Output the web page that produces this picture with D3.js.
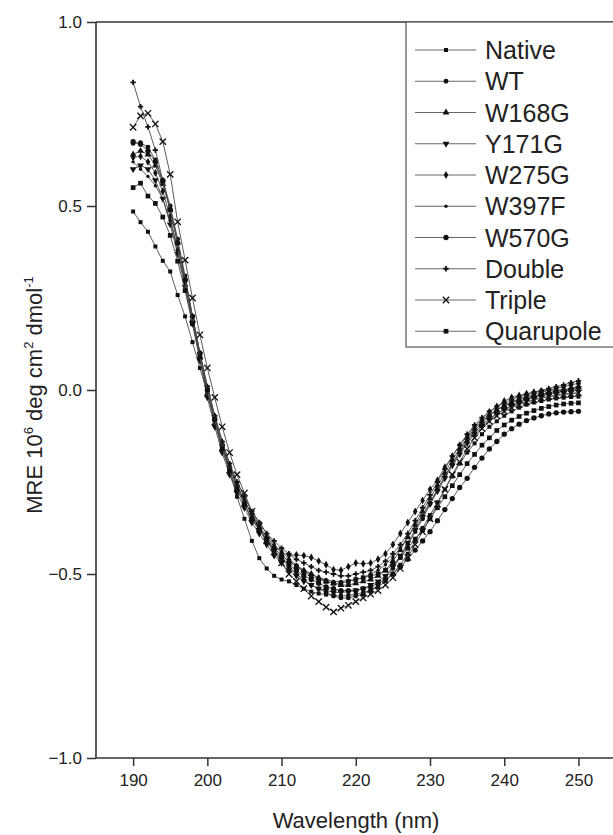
<!DOCTYPE html>
<html lang="en">

<head>
  <meta charset="utf-8">
  <title>CD spectra</title>
  <style>
    body {
      margin: 0;
      background: #fff;
    }

    svg text {
      font-family: "Liberation Sans", Arial, sans-serif;
      fill: #222;
    }

    .curve {
      fill: none;
      stroke: #4a4a4a;
      stroke-width: 0.9;
    }

    .frame line {
      stroke: #333;
      stroke-width: 1.6;
    }
  </style>
</head>

<body>
  <div id="chart"></div>
  <script src="https://d3js.org/d3.v7.min.js"></script>
  <script>
    // wavelength (nm) of every sample
    var wavelength = [190, 191, 192, 193, 194, 195, 196, 197, 198, 199,
      200, 201, 202, 203, 204, 205, 206, 207, 208, 209,
      210, 211, 212, 213, 214, 215, 216, 217, 218, 219,
      220, 221, 222, 223, 224, 225, 226, 227, 228, 229,
      230, 231, 232, 233, 234, 235, 236, 237, 238, 239,
      240, 241, 242, 243, 244, 245, 246, 247, 248, 249, 250];

    var xTicks = [190, 200, 210, 220, 230, 240, 250];
    var yTicks = [-1.0, -0.5, 0.0, 0.5, 1.0];

    var seriesNames = ["Native", "WT", "W168G", "Y171G", "W275G", "W397F", "W570G", "Double", "Triple", "Quarupole"];

    // MRE, 10^6 deg cm2 dmol-1
    var native = [0.485, 0.456, 0.43, 0.39, 0.351, 0.322, 0.258, 0.2, 0.13, 0.06,
      -0.01, -0.08, -0.15, -0.22, -0.29, -0.35, -0.41, -0.457, -0.485, -0.505,
      -0.515, -0.52, -0.53, -0.54, -0.548, -0.553, -0.556, -0.558, -0.56, -0.558,
      -0.555, -0.55, -0.545, -0.535, -0.52, -0.5, -0.475, -0.445, -0.41, -0.375,
      -0.34, -0.305, -0.27, -0.235, -0.2, -0.17, -0.145, -0.12, -0.1, -0.085,
      -0.07, -0.058, -0.048, -0.04, -0.034, -0.03, -0.026, -0.023, -0.021, -0.019, -0.018];
    var wt = [0.67, 0.672, 0.66, 0.625, 0.57, 0.5, 0.41, 0.31, 0.2, 0.1,
      0.0, -0.08, -0.15, -0.21, -0.26, -0.3, -0.34, -0.38, -0.41, -0.44,
      -0.46, -0.48, -0.5, -0.515, -0.53, -0.54, -0.55, -0.56, -0.565, -0.565,
      -0.56, -0.555, -0.545, -0.53, -0.51, -0.485, -0.455, -0.42, -0.385, -0.35,
      -0.31, -0.27, -0.235, -0.2, -0.165, -0.135, -0.11, -0.09, -0.07, -0.055,
      -0.042, -0.032, -0.024, -0.017, -0.011, -0.006, -0.001, 0.004, 0.009, 0.014, 0.018];
    var w168g = [0.64, 0.65, 0.64, 0.61, 0.56, 0.49, 0.4, 0.3, 0.19, 0.09,
      -0.01, -0.09, -0.16, -0.22, -0.27, -0.31, -0.35, -0.38, -0.41, -0.43,
      -0.45, -0.465, -0.48, -0.49, -0.5, -0.51, -0.52, -0.525, -0.53, -0.53,
      -0.525, -0.52, -0.515, -0.505, -0.49, -0.465, -0.435, -0.4, -0.365, -0.33,
      -0.295, -0.26, -0.225, -0.19, -0.16, -0.13, -0.105, -0.085, -0.068, -0.054,
      -0.043, -0.034, -0.027, -0.021, -0.016, -0.011, -0.007, -0.003, 0.001, 0.005, 0.009];
    var y171g = [0.6, 0.61, 0.6, 0.57, 0.52, 0.45, 0.37, 0.28, 0.18, 0.08,
      -0.02, -0.1, -0.17, -0.23, -0.28, -0.32, -0.36, -0.39, -0.42, -0.45,
      -0.47, -0.49, -0.505, -0.52, -0.53, -0.54, -0.545, -0.55, -0.55, -0.548,
      -0.545, -0.54, -0.53, -0.52, -0.505, -0.48, -0.45, -0.415, -0.38, -0.345,
      -0.31, -0.275, -0.24, -0.205, -0.175, -0.145, -0.12, -0.098, -0.08, -0.065,
      -0.052, -0.042, -0.033, -0.026, -0.02, -0.015, -0.011, -0.007, -0.003, 0.001, 0.005];
    var w275g = [0.632, 0.635, 0.62, 0.59, 0.54, 0.47, 0.38, 0.29, 0.19, 0.09,
      0.0, -0.08, -0.15, -0.21, -0.26, -0.3, -0.34, -0.37, -0.4, -0.425,
      -0.44, -0.45, -0.448, -0.45, -0.455, -0.465, -0.475, -0.488, -0.49, -0.48,
      -0.47, -0.472, -0.47, -0.46, -0.445, -0.42, -0.39, -0.36, -0.33, -0.3,
      -0.27, -0.245, -0.21, -0.18, -0.15, -0.125, -0.1, -0.08, -0.06, -0.045,
      -0.03, -0.02, -0.015, -0.01, -0.006, -0.003, -0.001, 0.0, 0.0, 0.0, 0.0];
    var w397f = [0.62, 0.6, 0.58, 0.555, 0.52, 0.46, 0.38, 0.29, 0.19, 0.1,
      0.01, -0.07, -0.14, -0.2, -0.25, -0.29, -0.33, -0.36, -0.39, -0.42,
      -0.44, -0.46, -0.475, -0.49, -0.5, -0.51, -0.515, -0.52, -0.52, -0.518,
      -0.515, -0.51, -0.5, -0.49, -0.475, -0.455, -0.43, -0.4, -0.37, -0.34,
      -0.305, -0.27, -0.235, -0.2, -0.17, -0.14, -0.115, -0.095, -0.078, -0.064,
      -0.053, -0.044, -0.037, -0.031, -0.026, -0.021, -0.017, -0.014, -0.011, -0.009, -0.008];
    var w570g = [0.675, 0.668, 0.65, 0.62, 0.565, 0.49, 0.4, 0.3, 0.2, 0.1,
      0.0, -0.08, -0.15, -0.21, -0.26, -0.31, -0.35, -0.38, -0.41, -0.435,
      -0.455, -0.475, -0.49, -0.505, -0.515, -0.525, -0.535, -0.54, -0.545, -0.545,
      -0.545, -0.54, -0.535, -0.525, -0.515, -0.5, -0.48, -0.46, -0.435, -0.41,
      -0.385, -0.355, -0.325, -0.295, -0.265, -0.24, -0.21, -0.185, -0.16, -0.14,
      -0.12, -0.105, -0.093, -0.083, -0.076, -0.07, -0.065, -0.062, -0.06, -0.059, -0.058];
    var double = [0.836, 0.77, 0.715, 0.652, 0.57, 0.49, 0.4, 0.3, 0.2, 0.1,
      0.01, -0.07, -0.14, -0.2, -0.25, -0.29, -0.33, -0.36, -0.39, -0.41,
      -0.43, -0.445, -0.46, -0.47, -0.48, -0.49, -0.495, -0.5, -0.505, -0.505,
      -0.5, -0.495, -0.49, -0.48, -0.465, -0.445, -0.42, -0.39, -0.355, -0.32,
      -0.285, -0.25, -0.215, -0.18, -0.15, -0.12, -0.095, -0.075, -0.058, -0.045,
      -0.035, -0.026, -0.018, -0.012, -0.006, -0.001, 0.004, 0.009, 0.014, 0.02, 0.025];
    var triple = [0.714, 0.745, 0.752, 0.723, 0.675, 0.586, 0.457, 0.353, 0.25, 0.15,
      0.06, -0.02, -0.1, -0.17, -0.23, -0.28, -0.33, -0.37, -0.41, -0.44,
      -0.47, -0.5, -0.52, -0.54, -0.56, -0.575, -0.59, -0.603, -0.593, -0.585,
      -0.575, -0.565, -0.555, -0.545, -0.53, -0.51, -0.485, -0.455, -0.42, -0.385,
      -0.35, -0.31, -0.27, -0.23, -0.195, -0.16, -0.13, -0.105, -0.085, -0.07,
      -0.058, -0.048, -0.04, -0.033, -0.027, -0.022, -0.018, -0.015, -0.012, -0.01, -0.008];
    var quarupole = [0.55, 0.562, 0.527, 0.507, 0.47, 0.42, 0.35, 0.27, 0.18, 0.09,
      0.0, -0.08, -0.16, -0.22, -0.27, -0.31, -0.35, -0.38, -0.405, -0.43,
      -0.45, -0.465, -0.48, -0.495, -0.505, -0.515, -0.52, -0.525, -0.525, -0.52,
      -0.515, -0.51, -0.505, -0.5, -0.49, -0.475, -0.455, -0.43, -0.405, -0.38,
      -0.35, -0.32, -0.29, -0.26, -0.23, -0.2, -0.175, -0.15, -0.13, -0.11,
      -0.095, -0.082, -0.072, -0.063, -0.056, -0.05, -0.045, -0.041, -0.038, -0.036, -0.035];

    var seriesValues = [native, wt, w168g, y171g, w275g, w397f, w570g, double, triple, quarupole];

    // marker shape for each series
    var timesSym = d3.symbolTimes || d3.symbolX;
    var markers = [
      { type: d3.symbolSquare, size: 16, rot: 0 },
      { type: d3.symbolCircle, size: 18, rot: 0 },
      { type: d3.symbolTriangle, size: 20, rot: 0 },
      { type: d3.symbolTriangle, size: 20, rot: 180 },
      { type: d3.symbolDiamond, size: 18, rot: 0 },
      { type: d3.symbolCircle, size: 9, rot: 0 },
      { type: d3.symbolCircle, size: 22, rot: 0 },
      { type: d3.symbolCross, size: 16, rot: 0 },
      { type: timesSym, size: 28, rot: 0, stroke: true },
      { type: d3.symbolSquare, size: 22, rot: 0 }
    ];

    var W = 613, H = 835;
    var margin = { top: 22, left: 96, bottom: 77 };
    var plotRight = 623;

    var svg = d3.select("#chart")
      .append("svg")
      .attr("width", W)
      .attr("height", H);

    var x = d3.scaleLinear()
      .domain([185, 256])
      .range([margin.left, plotRight]);

    var y = d3.scaleLinear()
      .domain([-1, 1])
      .range([H - margin.bottom, margin.top]);

    // axes
    var yAxis = d3.axisLeft(y)
      .tickValues(yTicks)
      .tickFormat(d3.format(".1f"))
      .tickSize(9)
      .tickPadding(5);
    var gy = svg.append("g")
      .attr("transform", "translate(" + margin.left + ",0)")
      .call(yAxis);

    var xAxis = d3.axisBottom(x)
      .tickValues(xTicks)
      .tickFormat(d3.format("d"))
      .tickSize(8)
      .tickPadding(8);
    var gx = svg.append("g")
      .attr("transform", "translate(0," + (H - margin.bottom) + ")")
      .call(xAxis);

    [gx, gy].forEach(function (g) {
      g.select(".domain").remove();
      g.selectAll("line").attr("stroke", "#333").attr("stroke-width", 1.5);
      g.selectAll("text")
        .attr("fill", "#222")
        .style("font-size", "17px")
        .style("font-family", "'Liberation Sans', Arial, sans-serif");
    });

    // frame
    var frame = svg.append("g").attr("class", "frame");
    frame.append("line").attr("x1", margin.left).attr("x2", margin.left)
      .attr("y1", y(1)).attr("y2", y(-1));
    frame.append("line").attr("x1", margin.left).attr("x2", plotRight)
      .attr("y1", y(-1)).attr("y2", y(-1));
    frame.append("line").attr("x1", margin.left).attr("x2", plotRight)
      .attr("y1", y(1)).attr("y2", y(1));
    frame.append("line").attr("x1", plotRight).attr("x2", plotRight)
      .attr("y1", y(1)).attr("y2", y(-1));

    // axis titles
    svg.append("text")
      .attr("x", 356)
      .attr("y", 828)
      .attr("text-anchor", "middle")
      .style("font-size", "22px")
      .text("Wavelength (nm)");

    var yt = svg.append("text")
      .attr("transform", "translate(42," + 395 + ") rotate(-90)")
      .attr("text-anchor", "middle")
      .style("font-size", "22px");
    yt.append("tspan").text("MRE 10");
    yt.append("tspan").attr("dy", -9).style("font-size", "13px").text("6");
    yt.append("tspan").attr("dy", 9).text(" deg cm");
    yt.append("tspan").attr("dy", -9).style("font-size", "13px").text("2");
    yt.append("tspan").attr("dy", 9).text(" dmol");
    yt.append("tspan").attr("dy", -9).style("font-size", "13px").text("-1");

    // curves
    var line = d3.line()
      .x(function (d) { return x(d[0]); })
      .y(function (d) { return y(d[1]); });

    function styleMarker(p, m) {
      if (m.stroke) {
        p.attr("fill", "none").attr("stroke", "#111").attr("stroke-width", 1.3);
      } else {
        p.attr("fill", "#111");
      }
    }

    seriesValues.forEach(function (vals, i) {
      var pts = wavelength.map(function (w, j) { return [w, vals[j]]; });
      var m = markers[i];
      var g = svg.append("g");
      g.append("path")
        .datum(pts)
        .attr("class", "curve")
        .attr("d", line);
      var p = g.selectAll(".pt")
        .data(pts)
        .enter()
        .append("path")
        .attr("class", "pt")
        .attr("d", d3.symbol().type(m.type).size(m.size)())
        .attr("transform", function (d) {
          return "translate(" + x(d[0]) + "," + y(d[1]) + ") rotate(" + m.rot + ")";
        });
      styleMarker(p, m);
    });

    // legend
    var lg = svg.append("g");
    lg.append("rect")
      .attr("x", 406)
      .attr("y", y(1))
      .attr("width", 260)
      .attr("height", 325)
      .attr("fill", "#fff")
      .attr("stroke", "#555")
      .attr("stroke-width", 1.2);

    seriesNames.forEach(function (name, i) {
      var cy = 50 + i * 31.25;
      var m = markers[i];
      lg.append("line")
        .attr("x1", 415).attr("x2", 476)
        .attr("y1", cy).attr("y2", cy)
        .attr("stroke", "#555")
        .attr("stroke-width", 0.9);
      var p = lg.append("path")
        .attr("d", d3.symbol().type(m.type).size(m.size)())
        .attr("transform", "translate(446," + cy + ") rotate(" + m.rot + ")");
      styleMarker(p, m);
      lg.append("text")
        .attr("x", 485)
        .attr("y", cy)
        .attr("dy", "0.36em")
        .style("font-size", "25px")
        .text(name);
    });
  </script>
</body>

</html>
